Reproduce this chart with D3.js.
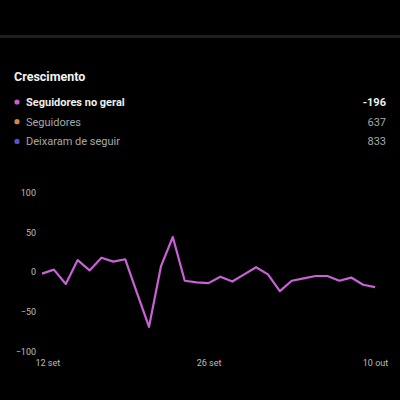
<!DOCTYPE html>
<html>
<head>
<meta charset="utf-8">
<script src="https://cdn.jsdelivr.net/npm/d3@7"></script>
<style>
  body { margin: 0; background: #000; }
  svg { display: block; font-family: Roboto, "Noto Sans", sans-serif; }
</style>
</head>
<body>
<div class="chart"></div>
<script>
// daily net follower change, 12 set .. 10 out
var days = d3.range(29);
var overall = [-2, 3, -15, 15, 2, 18, 13, 16, -27, -69, 7, 44, -11, -13,
  -14, -6, -12, -3, 6, -3, -24, -11, -8, -5, -5, -11, -7, -16, -19];
var yTicks = [100, 50, 0, -50, -100];
var xTickIdx = [0, 14, 28];
var xTickLabels = ["12 set", "26 set", "10 out"];

var legendNames = ["Seguidores no geral", "Seguidores", "Deixaram de seguir"];
var legendValues = ["-196", "637", "833"];
var legendColors = ["#c45fd3", "#d4874c", "#5a4fd0"];

var svgWidth = 400;
var svgHeight = 400;

var svg = d3.select(".chart")
  .append("svg")
  .attr("width", svgWidth)
  .attr("height", svgHeight);

svg.append("rect")
  .attr("width", svgWidth)
  .attr("height", svgHeight)
  .attr("fill", "#000");

// divider at top
svg.append("rect")
  .attr("x", 0)
  .attr("y", 35)
  .attr("width", svgWidth)
  .attr("height", 3)
  .attr("fill", "#1f1f1f");

svg.append("text")
  .attr("x", 14)
  .attr("y", 81)
  .text("Crescimento")
  .attr("fill", "#f2f2f2")
  .attr("font-size", "12.5px")
  .attr("font-weight", 700);

// legend rows
var rows = svg.selectAll("g.legend")
  .data(legendNames)
  .enter()
  .append("g")
  .attr("class", "legend")
  .attr("transform", (d, i) => `translate(0, ${102 + i * 19.7})`);

rows.append("circle")
  .attr("cx", 17)
  .attr("cy", 0)
  .attr("r", 2.6)
  .attr("fill", (d, i) => legendColors[i]);

rows.append("text")
  .attr("x", 26)
  .attr("dy", "0.36em")
  .text(d => d)
  .attr("font-size", "11px")
  .attr("font-weight", (d, i) => i == 0 ? 700 : 400)
  .attr("fill", (d, i) => i == 0 ? "#eeeeee" : "#a8a8a8");

rows.append("text")
  .attr("x", 386)
  .attr("dy", "0.36em")
  .attr("text-anchor", "end")
  .text((d, i) => legendValues[i])
  .attr("font-size", "11px")
  .attr("font-weight", (d, i) => i == 0 ? 700 : 400)
  .attr("fill", (d, i) => i == 0 ? "#eeeeee" : "#a8a8a8");

// scales
var xScale = d3.scaleLinear()
  .domain([0, 28])
  .range([42, 375]);

var yScale = d3.scaleLinear()
  .domain([-100, 100])
  .range([351.5, 192.5]);

// y axis labels only, no lines
var leftAxis = d3.axisLeft(yScale)
  .tickValues(yTicks)
  .tickSize(0)
  .tickPadding(0);

var yAxis = svg.append("g")
  .attr("transform", "translate(36, 0)")
  .call(leftAxis);
yAxis.select(".domain").remove();
yAxis.selectAll("text")
  .attr("fill", "#bdbdbd")
  .attr("font-size", "9px")
  .attr("font-family", "Roboto, sans-serif");

// x axis labels
var bottomAxis = d3.axisBottom(xScale)
  .tickValues(xTickIdx)
  .tickFormat((d, i) => xTickLabels[i])
  .tickSize(0)
  .tickPadding(0);

var xAxis = svg.append("g")
  .attr("transform", "translate(0, 360)")
  .call(bottomAxis);
xAxis.select(".domain").remove();
xAxis.selectAll("text")
  .attr("fill", "#bdbdbd")
  .attr("font-size", "9px")
  .attr("font-family", "Roboto, sans-serif")
  .attr("text-anchor", (d, i) => i == 0 ? "start" : "middle")
  .attr("dx", (d, i) => i == 0 ? -7 : 0);

// line
var line = d3.line()
  .x(d => xScale(d))
  .y(d => yScale(overall[d]));

svg.append("path")
  .datum(days)
  .attr("d", line)
  .attr("fill", "none")
  .attr("stroke", "#c862d6")
  .attr("stroke-width", 2.2)
  .attr("stroke-linejoin", "round");
</script>
</body>
</html>
